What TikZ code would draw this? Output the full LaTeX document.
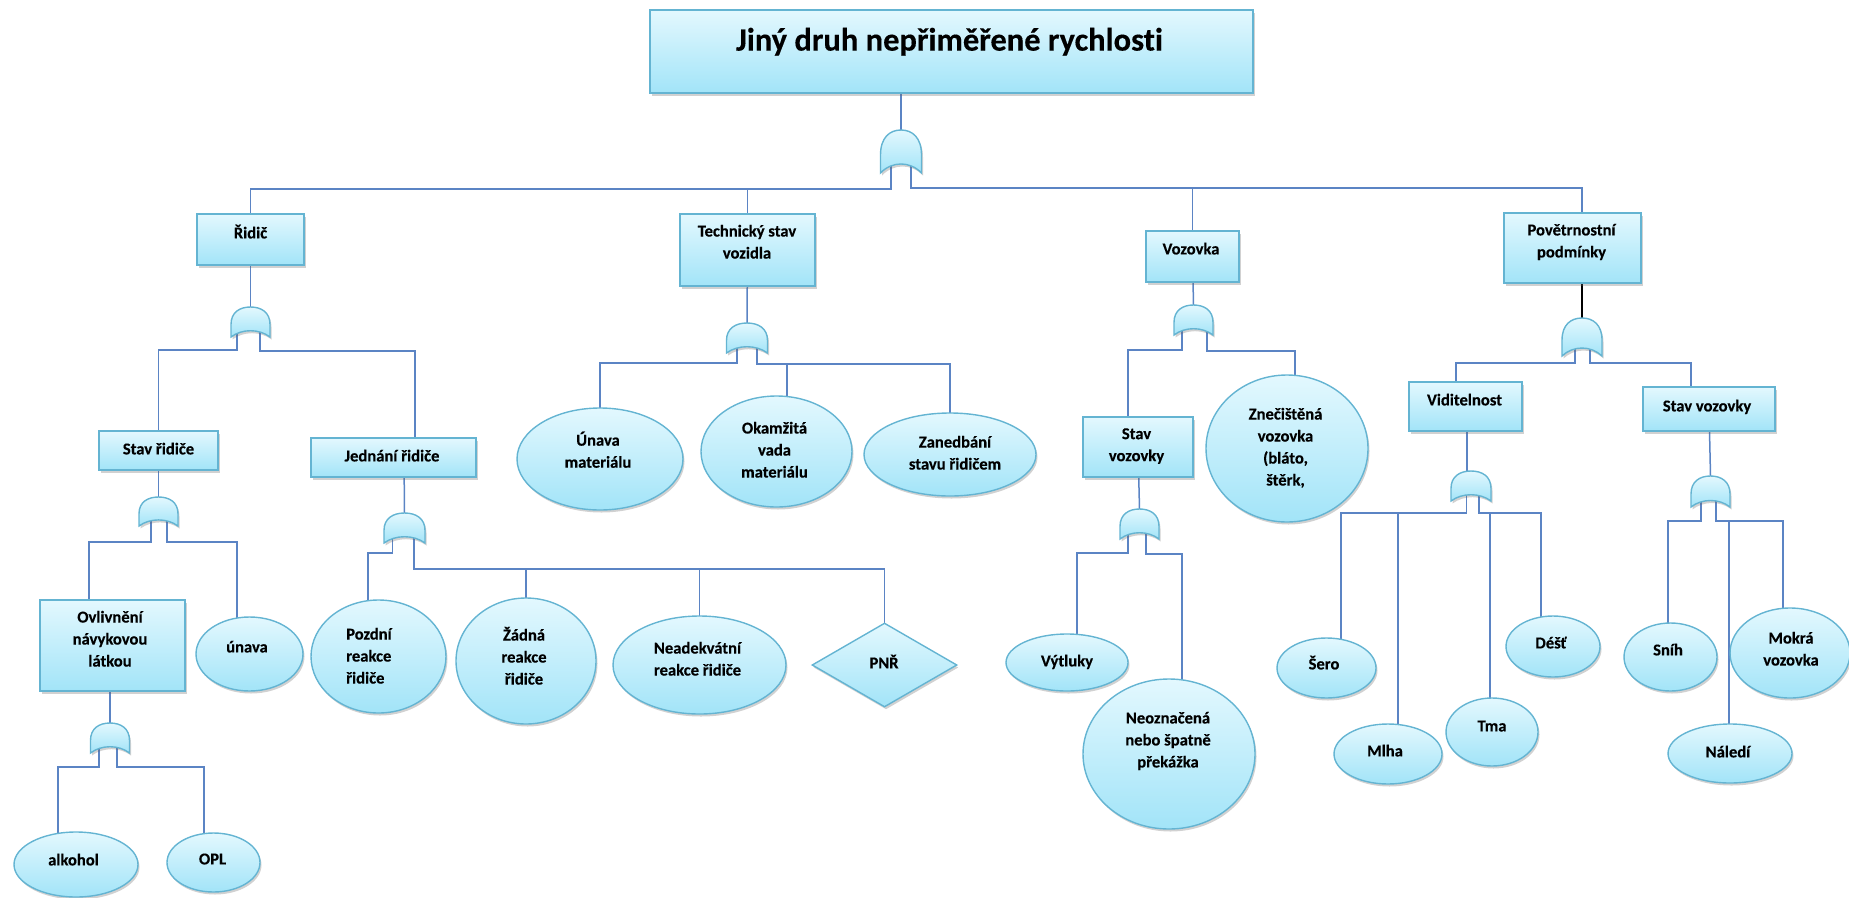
\documentclass[tikz,border=0pt]{standalone}
\usepackage{fontspec}
\setmainfont{Carlito}[Ligatures=NoCommon, BoldFeatures={FakeBold=0.3}]
\usetikzlibrary{shapes.geometric,shadows,backgrounds,calc}

\definecolor{fillTop}{HTML}{E3F8FE}
\definecolor{fillBot}{HTML}{A2E4F8}
\definecolor{edge}{HTML}{64B4D2}
\definecolor{wire}{HTML}{5B84C4}

\tikzset{
  shade base/.style={top color=fillTop, bottom color=fillBot, draw=edge, line width=1.4pt,
    drop shadow={shadow xshift=1.5pt, shadow yshift=-2.5pt, opacity=0.3, fill=black!60}},
  event/.style={shade base, rectangle, inner sep=0pt},
  basic/.style={shade base, ellipse, inner sep=0pt},
  undev/.style={shade base, diamond, inner sep=0pt},
  lbl/.style={font=\bfseries\fontsize{16.6}{22}\selectfont, align=center, inner sep=0pt,
    execute at begin node=\strut, execute at end node=\strut},
  conn/.style={draw=wire, line width=1.5pt},
  pics/orgate/.style n args={4}{code={
    \path[shade base] (-#1/2,0.58*#2) .. controls (-#1/2,0.18*#2) and (-0.28*#1,0) .. (0,0)
      .. controls (0.28*#1,0) and (#1/2,0.18*#2) .. (#1/2,0.58*#2) -- (#1/2,#2)
      .. controls (0.22*#1,0.72*#2) and (-0.22*#1,0.72*#2) .. (-#1/2,#2) -- cycle;
    \coordinate (-top) at (0,0);
    \coordinate (-l) at (#3,0.6*#2);
    \coordinate (-r) at (#4,0.6*#2);
  }}
}

\begin{document}
\begin{tikzpicture}[x=1pt, y=-1pt]
\useasboundingbox (0,0) rectangle (1849,897);

% ---------- events (rectangles) ----------
\node[event, minimum width=603pt, minimum height=83pt] (top) at (951.5,51.5) {};
\node[event, minimum width=107pt, minimum height=51pt] (ridic) at (250.5,239.5) {};
\node[event, minimum width=135pt, minimum height=72pt] (techn) at (747.5,250) {};
\node[event, minimum width=93pt, minimum height=51pt] (vozovka) at (1192.5,256.5) {};
\node[event, minimum width=137pt, minimum height=70pt] (povet) at (1572.5,248) {};
\node[event, minimum width=119pt, minimum height=39pt] (stavr) at (158.5,450.5) {};
\node[event, minimum width=165pt, minimum height=39pt] (jedn) at (393.5,457.5) {};
\node[event, minimum width=145pt, minimum height=91pt] (ovl) at (112.5,645.5) {};
\node[event, minimum width=110pt, minimum height=60pt] (svL) at (1138,447) {};
\node[event, minimum width=113pt, minimum height=49pt] (vid) at (1465.5,406.5) {};
\node[event, minimum width=132pt, minimum height=44pt] (svR) at (1709,409) {};

% ---------- basic events (ellipses) and undeveloped event ----------
\node[basic, minimum width=166pt, minimum height=102pt] (unavaM) at (600,459) {};
\node[basic, minimum width=151pt, minimum height=111pt] (okam) at (776.5,451.5) {};
\node[basic, minimum width=172pt, minimum height=83pt] (zaned) at (950,454.5) {};
\node[basic, minimum width=162pt, minimum height=147pt] (znec) at (1287,448.5) {};
\node[basic, minimum width=107pt, minimum height=74pt] (unava) at (249.5,654) {};
\node[basic, minimum width=124pt, minimum height=65pt] (alkohol) at (76,864.5) {};
\node[basic, minimum width=93pt, minimum height=59pt] (opl) at (213.5,862.5) {};
\node[basic, minimum width=135pt, minimum height=113pt] (pozdni) at (378.5,656.5) {};
\node[basic, minimum width=140pt, minimum height=126pt] (zadna) at (526,661) {};
\node[basic, minimum width=173pt, minimum height=98pt] (neadek) at (699.5,665) {};
\node[undev, minimum width=145pt, minimum height=84pt] (pnr) at (884.5,665) {};
\node[basic, minimum width=122pt, minimum height=57pt] (vytluky) at (1067,662.5) {};
\node[basic, minimum width=172pt, minimum height=150pt] (neoz) at (1169,754) {};
\node[basic, minimum width=99pt, minimum height=60pt] (sero) at (1326.5,668) {};
\node[basic, minimum width=108pt, minimum height=60pt] (mlha) at (1388,754) {};
\node[basic, minimum width=92pt, minimum height=68pt] (tma) at (1492,732) {};
\node[basic, minimum width=94pt, minimum height=61pt] (dest) at (1553,646.5) {};
\node[basic, minimum width=93pt, minimum height=68pt] (snih) at (1670.5,657) {};
\node[basic, minimum width=120pt, minimum height=90pt] (mokra) at (1790,653) {};
\node[basic, minimum width=124pt, minimum height=59pt] (naledi) at (1730,753.5) {};

% ---------- OR gates ----------
\pic (g0)   at (901,130)    {orgate={41}{43}{-10}{10}};
\pic (gRid) at (250.5,307)  {orgate={39}{30}{-13.5}{9.5}};
\pic (gTec) at (747,323)    {orgate={41}{30}{-10}{10}};
\pic (gVoz) at (1193.5,305) {orgate={39}{30}{-11.5}{13.5}};
\pic (gPov) at (1582,318)   {orgate={40}{38}{-7}{8}};
\pic (gStr) at (158.5,497)  {orgate={39}{29}{-7.5}{8.5}};
\pic (gOvl) at (110,723)    {orgate={39}{30}{-11}{7}};
\pic (gJed) at (404.5,513)  {orgate={41}{30}{-12}{9.5}};
\pic (gSvL) at (1139.5,509) {orgate={39}{30}{-11.5}{6.5}};
\pic (gVid) at (1471,471)   {orgate={40}{30}{-4.5}{8}};
\pic (gSvR) at (1710.5,476) {orgate={39}{31}{-9.5}{5.5}};

% ---------- connectors (behind the shapes) ----------
\begin{pgfonlayer}{background}
\draw[conn] ([xshift=-50.5pt]top.south) -- (g0-top);
\draw[conn] (g0-l) -- (g0-l |- 0,189) -| (ridic.center);
\draw[conn] (g0-l) -- (g0-l |- 0,189) -| (techn.center);
\draw[conn] (g0-r) -- (g0-r |- 0,188) -| (vozovka.center);
\draw[conn] (g0-r) -- (g0-r |- 0,188) -| ([xshift=9.5pt]povet.center);

\draw[conn] (ridic.center) -- (gRid-top);
\draw[conn] (gRid-l) -- (gRid-l |- 0,350) -| (stavr.center);
\draw[conn] (gRid-r) -- (gRid-r |- 0,351) -| ([xshift=21.5pt]jedn.center);

\draw[conn] (techn.center) -- (gTec-top);
\draw[conn] (gTec-l) -- (gTec-l |- 0,363) -| (unavaM.center);
\draw[conn] (gTec-r) -- (gTec-r |- 0,364) -| ([xshift=10.5pt]okam.center);
\draw[conn] (gTec-r) -- (gTec-r |- 0,364) -| (zaned.center);

\draw[conn] (vozovka.center) -- (gVoz-top);
\draw[conn] (gVoz-l) -- (gVoz-l |- 0,350) -| ([xshift=-10pt]svL.center);
\draw[conn] (gVoz-r) -- (gVoz-r |- 0,351) -| ([xshift=8pt]znec.center);

\draw[line width=1.5pt, black] ([xshift=9.5pt]povet.center) -- (gPov-top);
\draw[conn] (gPov-l) -- (gPov-l |- 0,363) -| ([xshift=-9.5pt]vid.center);
\draw[conn] (gPov-r) -- (gPov-r |- 0,363) -| ([xshift=-18pt]svR.center);

\draw[conn] (stavr.center) -- (gStr-top);
\draw[conn] (gStr-l) -- (gStr-l |- 0,542) -| ([xshift=-23.5pt]ovl.center);
\draw[conn] (gStr-r) -- (gStr-r |- 0,542) -| ([xshift=-12.5pt]unava.center);

\draw[conn] ([xshift=-2.5pt]ovl.center) -- (gOvl-top);
\draw[conn] (gOvl-l) -- (gOvl-l |- 0,767) -| ([xshift=-18pt]alkohol.center);
\draw[conn] (gOvl-r) -- (gOvl-r |- 0,767) -| ([xshift=-9.5pt]opl.center);

\draw[conn] ([xshift=10.5pt]jedn.center) -- (gJed-top);
\draw[conn] (gJed-l) -- (gJed-l |- 0,553) -| ([xshift=-10.5pt]pozdni.center);
\draw[conn] (gJed-r) -- (gJed-r |- 0,569) -| (zadna.center);
\draw[conn] (gJed-r) -- (gJed-r |- 0,569) -| (neadek.center);
\draw[conn] (gJed-r) -- (gJed-r |- 0,569) -| (pnr.center);

\draw[conn] (svL.center) -- (gSvL-top);
\draw[conn] (gSvL-l) -- (gSvL-l |- 0,553) -| ([xshift=10pt]vytluky.center);
\draw[conn] (gSvL-r) -- (gSvL-r |- 0,554) -| ([xshift=13pt]neoz.center);

\draw[conn] ([xshift=1.5pt]vid.center) -- ([xshift=-4pt]gVid-top);
\draw[conn] (gVid-l) -- (gVid-l |- 0,513) -| ([xshift=14.5pt]sero.center);
\draw[conn] (gVid-l) -- (gVid-l |- 0,513) -| ([xshift=10pt]mlha.center);
\draw[conn] (gVid-r) -- (gVid-r |- 0,513) -| ([xshift=-2pt]tma.center);
\draw[conn] (gVid-r) -- (gVid-r |- 0,513) -| ([xshift=-12pt]dest.center);

\draw[conn] (svR.center) -- (gSvR-top);
\draw[conn] (gSvR-l) -- (gSvR-l |- 0,521) -| ([xshift=-2.5pt]snih.center);
\draw[conn] (gSvR-r) -- (gSvR-r |- 0,521) -| ([xshift=-1pt]naledi.center);
\draw[conn] (gSvR-r) -- (gSvR-r |- 0,521) -| ([xshift=-7pt]mokra.center);
\end{pgfonlayer}

% ---------- texts ----------
\node[lbl, font=\bfseries\fontsize{32.5}{38}\selectfont] (top-t) at (949.5,43) {Jiný druh nepřiměřené rychlosti};
\node[lbl] (ridic-t) at (250.5,234) {Řidič};
\node[lbl] (techn-t) at (747,245) {Technický stav\\vozidla};
\node[lbl] (vozovka-t) at (1191,250) {Vozovka};
\node[lbl] (povet-t) at (1571.5,244) {Povětrnostní\\podmínky};
\node[lbl] (stavr-t) at (158.5,450) {Stav řidiče};
\node[lbl] (jedn-t) at (392,457) {Jednání řidiče};
\node[lbl] (ovl-t) at (110,642) {Ovlivnění\\návykovou\\látkou};
\node[lbl] (svL-t) at (1136.5,448) {Stav\\vozovky};
\node[lbl] (vid-t) at (1464.5,401) {Viditelnost};
\node[lbl] (svR-t) at (1707,407) {Stav vozovky};

\node[lbl] (unavaM-t) at (598,453) {Únava\\materiálu};
\node[lbl] (okam-t) at (774.5,453) {Okamžitá\\vada\\materiálu};
\node[lbl] (zaned-t) at (955,456) {Zanedbání\\stavu řidičem};
\node[lbl] (znec-t) at (1285.5,450) {Znečištěná\\vozovka\\(bláto,\\štěrk,};
\node[lbl] (unava-t) at (247,648) {únava};
\node[lbl] (alkohol-t) at (73.5,861) {alkohol};
\node[lbl] (opl-t) at (212.5,860) {OPL};
\node[lbl, align=left, anchor=west] (pozdni-t) at (346,659) {Pozdní\\reakce\\řidiče};
\node[lbl] (zadna-t) at (524,659) {Žádná\\reakce\\řidiče};
\node[lbl] (neadek-t) at (697.5,662) {Neadekvátní\\reakce řidiče};
\node[lbl] (pnr-t) at (884,664) {PNŘ};
\node[lbl] (vytluky-t) at (1067,662) {Výtluky};
\node[lbl] (neoz-t) at (1168,743) {Neoznačená\\nebo špatně\\překážka};
\node[lbl] (sero-t) at (1324,665) {Šero};
\node[lbl] (mlha-t) at (1385,752) {Mlha};
\node[lbl] (tma-t) at (1492,727) {Tma};
\node[lbl] (dest-t) at (1551,644) {Déšť};
\node[lbl] (snih-t) at (1668,651) {Sníh};
\node[lbl] (mokra-t) at (1791,652) {Mokrá\\vozovka};
\node[lbl] (naledi-t) at (1728,753) {Náledí};
\end{tikzpicture}
\end{document}
